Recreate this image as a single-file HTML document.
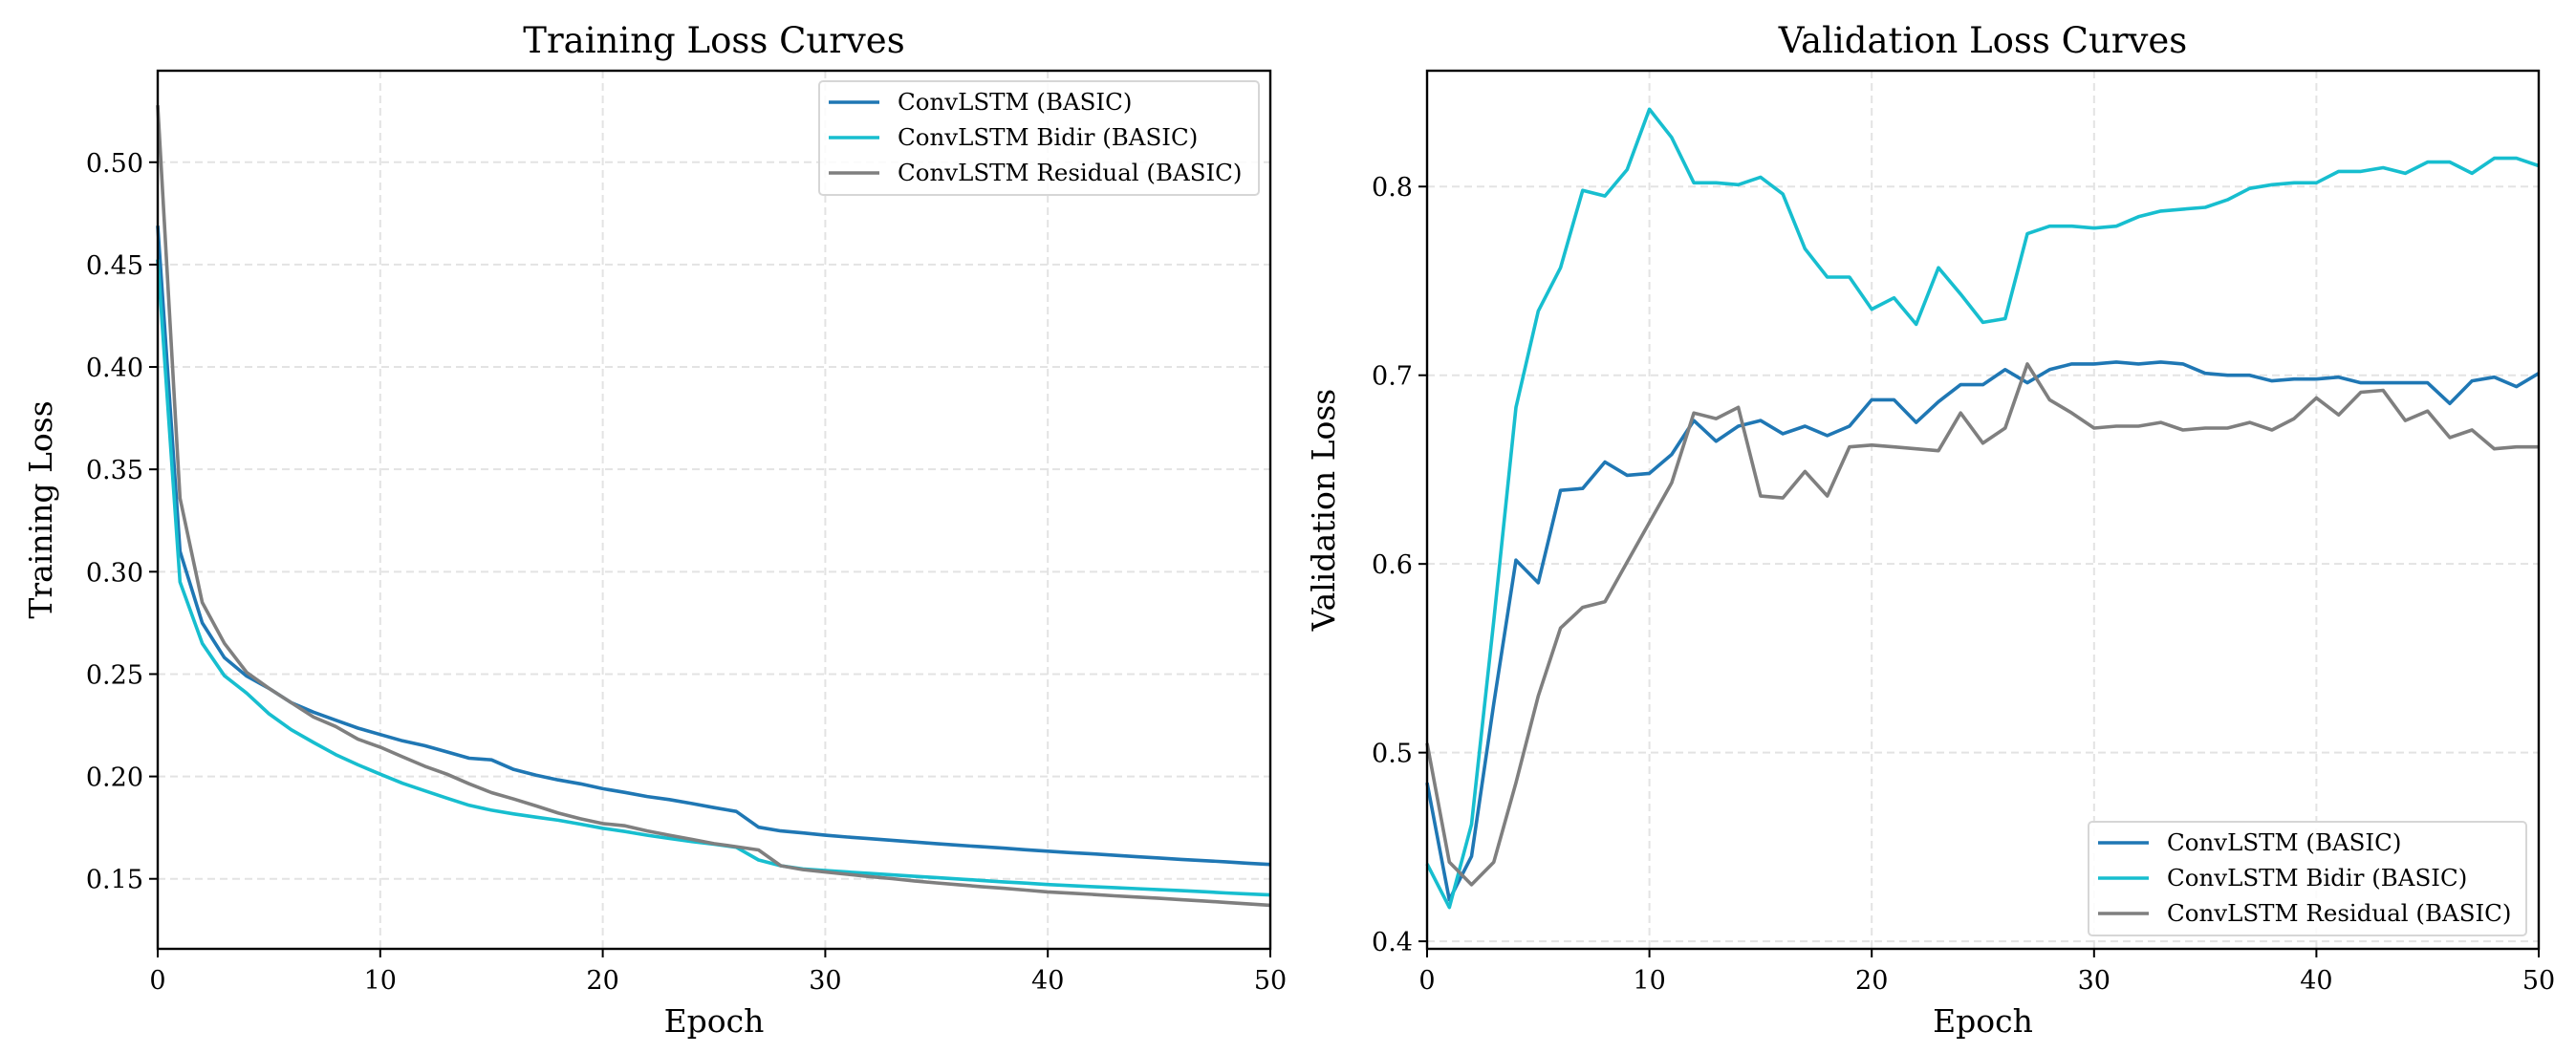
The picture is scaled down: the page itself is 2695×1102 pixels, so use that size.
<!DOCTYPE html>
<html><head><meta charset="utf-8"><style>
html,body{margin:0;padding:0;background:#fff;}
svg{display:block;font-family:"DejaVu Serif","Liberation Serif",serif;}
</style></head><body>
<svg id="chart" width="2695" height="1102" viewBox="0 0 2695 1102" xmlns="http://www.w3.org/2000/svg"></svg>
<script>
const epochs = Array.from({length:51},(_,i)=>i);
const trainBasic = [0.469,0.31,0.275,0.258,0.249,0.243,0.236,0.2314,0.2275,0.2236,0.2205,0.2174,0.215,0.212,0.2089,0.2081,0.2034,0.2006,0.1983,0.1964,0.194,0.1922,0.1902,0.1887,0.1868,0.1848,0.1829,0.1752,0.1734,0.1724,0.1713,0.1704,0.1696,0.1688,0.168,0.1672,0.1664,0.1657,0.165,0.1642,0.1635,0.1628,0.1622,0.1615,0.1608,0.1602,0.1595,0.1589,0.1583,0.1576,0.157];
const trainBidir = [0.4525,0.295,0.265,0.2492,0.2407,0.2306,0.2228,0.2166,0.2107,0.2057,0.2011,0.1967,0.193,0.1894,0.1859,0.1835,0.1817,0.1801,0.1786,0.1767,0.1747,0.1731,0.1713,0.1697,0.1682,0.1669,0.1654,0.1592,0.1564,0.1548,0.154,0.1533,0.1526,0.1519,0.1512,0.1506,0.1499,0.1492,0.1485,0.1479,0.1472,0.1467,0.1462,0.1457,0.1452,0.1447,0.1442,0.1437,0.1431,0.1426,0.1421];
const trainResidual = [0.5278,0.336,0.285,0.265,0.2508,0.243,0.236,0.229,0.2244,0.2182,0.2143,0.2096,0.205,0.2011,0.1964,0.1921,0.189,0.1856,0.1821,0.1793,0.177,0.1759,0.1734,0.1713,0.1693,0.1672,0.1657,0.1641,0.1564,0.1545,0.1533,0.1522,0.1511,0.1501,0.149,0.148,0.1471,0.1462,0.1454,0.1445,0.1436,0.143,0.1424,0.1417,0.1411,0.1405,0.1398,0.1392,0.1385,0.1378,0.1371];
const valBasic = [0.484,0.422,0.445,0.526,0.602,0.590,0.639,0.640,0.654,0.647,0.648,0.658,0.676,0.665,0.673,0.676,0.669,0.673,0.668,0.673,0.687,0.687,0.675,0.686,0.695,0.695,0.703,0.696,0.703,0.706,0.706,0.707,0.706,0.707,0.706,0.701,0.700,0.700,0.697,0.698,0.698,0.699,0.696,0.696,0.696,0.696,0.685,0.697,0.699,0.694,0.701];
const valBidir = [0.441,0.418,0.462,0.570,0.683,0.734,0.757,0.798,0.795,0.809,0.841,0.826,0.802,0.802,0.801,0.805,0.796,0.767,0.752,0.752,0.735,0.741,0.727,0.757,0.743,0.728,0.730,0.775,0.779,0.779,0.778,0.779,0.784,0.787,0.788,0.789,0.793,0.799,0.801,0.802,0.802,0.808,0.808,0.810,0.807,0.813,0.813,0.807,0.815,0.815,0.811];
const valResidual = [0.505,0.442,0.430,0.442,0.484,0.530,0.566,0.577,0.580,0.601,0.622,0.643,0.680,0.677,0.683,0.636,0.635,0.649,0.636,0.662,0.663,0.662,0.661,0.660,0.680,0.664,0.672,0.706,0.687,0.680,0.672,0.673,0.673,0.675,0.671,0.672,0.672,0.675,0.671,0.677,0.688,0.679,0.691,0.692,0.676,0.681,0.667,0.671,0.661,0.662,0.662];
const xTicks = [0,10,20,30,40,50];
const trainYTicks = [0.15,0.20,0.25,0.30,0.35,0.40,0.45,0.50];
const valYTicks = [0.4,0.5,0.6,0.7,0.8];
const seriesNames = ["ConvLSTM (BASIC)","ConvLSTM Bidir (BASIC)","ConvLSTM Residual (BASIC)"];
const colors = ["#1f77b4","#17becf","#7f7f7f"];

const NS="http://www.w3.org/2000/svg";
const svg=document.getElementById('chart');
function mk(tag,attrs,parent){const e=document.createElementNS(NS,tag);for(const k in attrs)e.setAttribute(k,attrs[k]);(parent||svg).appendChild(e);return e;}

function panel(cfg){
  const g=mk('g',{});
  
  
  const sx=v=>cfg.x0+(v-0)/(50-0)*(cfg.x1-cfg.x0);
  const sy=v=>cfg.yb-(v-cfg.ymin)/(cfg.ymax-cfg.ymin)*(cfg.yb-cfg.yt);
  xTicks.forEach(t=>{const l=mk('line',{x1:sx(t),x2:sx(t),y1:cfg.yt,y2:cfg.yb,stroke:'#e3e3e3','stroke-width':2,'stroke-dasharray':'8,5'},g);
    
    });
  cfg.yticks.forEach(t=>{const l=mk('line',{x1:cfg.x0,x2:cfg.x1,y1:sy(t),y2:sy(t),stroke:'#e3e3e3','stroke-width':2,'stroke-dasharray':'8,5'},g);
    
    });
  cfg.series.forEach((s,i)=>{
    const d=s.map((v,k)=>(k?'L':'M')+sx(epochs[k]).toFixed(1)+','+sy(v).toFixed(1)).join(' ');
    const p=mk('path',{d:d,fill:'none',stroke:colors[i],'stroke-width':3.6,'stroke-linejoin':'round'},g);
    
    
  });
  const r=mk('rect',{x:cfg.x0,y:cfg.yt,width:cfg.x1-cfg.x0,height:cfg.yb-cfg.yt,fill:'none',stroke:'#000','stroke-width':2.4},g);
  
  
  xTicks.forEach(t=>{mk('line',{x1:sx(t),x2:sx(t),y1:cfg.yb,y2:cfg.yb+9,stroke:'#000','stroke-width':2},g);
    const tx=mk('text',{x:sx(t),y:cfg.yb+42,'text-anchor':'middle','font-size':27},g);tx.textContent=t;
    
    });
  cfg.yticks.forEach(t=>{mk('line',{x1:cfg.x0-9,x2:cfg.x0,y1:sy(t),y2:sy(t),stroke:'#000','stroke-width':2},g);
    const tx=mk('text',{x:cfg.x0-15,y:sy(t)+10,'text-anchor':'end','font-size':27},g);tx.textContent=t.toFixed(cfg.dec);
    
    });
  const xl=mk('text',{x:(cfg.x0+cfg.x1)/2,y:1080,'text-anchor':'middle','font-size':33},g);xl.textContent='Epoch';
  
  
  const yc=(cfg.yt+cfg.yb)/2;
  const yl=mk('text',{x:cfg.ylx,y:yc,'text-anchor':'middle','font-size':33,transform:`rotate(-90 ${cfg.ylx} ${yc})`},g);yl.textContent=cfg.ylabel;
  
  
  const ti=mk('text',{x:(cfg.x0+cfg.x1)/2,y:55,'text-anchor':'middle','font-size':37},g);ti.textContent=cfg.title;
  
  
  const lg=mk('g',{},g);
  
  
  mk('rect',{x:cfg.lx,y:cfg.ly,width:cfg.lw,height:119,rx:4,fill:'#fff','fill-opacity':0.85,stroke:'#d6d6d6','stroke-width':2},lg);
  seriesNames.forEach((n,i)=>{
    const cy=cfg.ly+22+i*37;
    const e=mk('g',{},lg);
    
    
    mk('line',{x1:cfg.lx+10,x2:cfg.lx+63,y1:cy,y2:cy,stroke:colors[i],'stroke-width':3.6},e);
    const t=mk('text',{x:cfg.lx+82,y:cy+8,'font-size':24.5},e);t.textContent=n;
  });
}
panel({name:'training-loss-panel',x0:165,x1:1329,yt:74,yb:993,ymin:0.1158,ymax:0.5447,yticks:trainYTicks,dec:2,
  title:'Training Loss Curves',ylabel:'Training Loss',ylx:54,series:[trainBasic,trainBidir,trainResidual],lx:857,ly:85,lw:460});
panel({name:'validation-loss-panel',x0:1493,x1:2656,yt:74,yb:993,ymin:0.396,ymax:0.8614,yticks:valYTicks,dec:1,
  title:'Validation Loss Curves',ylabel:'Validation Loss',ylx:1396,series:[valBasic,valBidir,valResidual],lx:2185,ly:860,lw:458});
</script>
</body></html>
